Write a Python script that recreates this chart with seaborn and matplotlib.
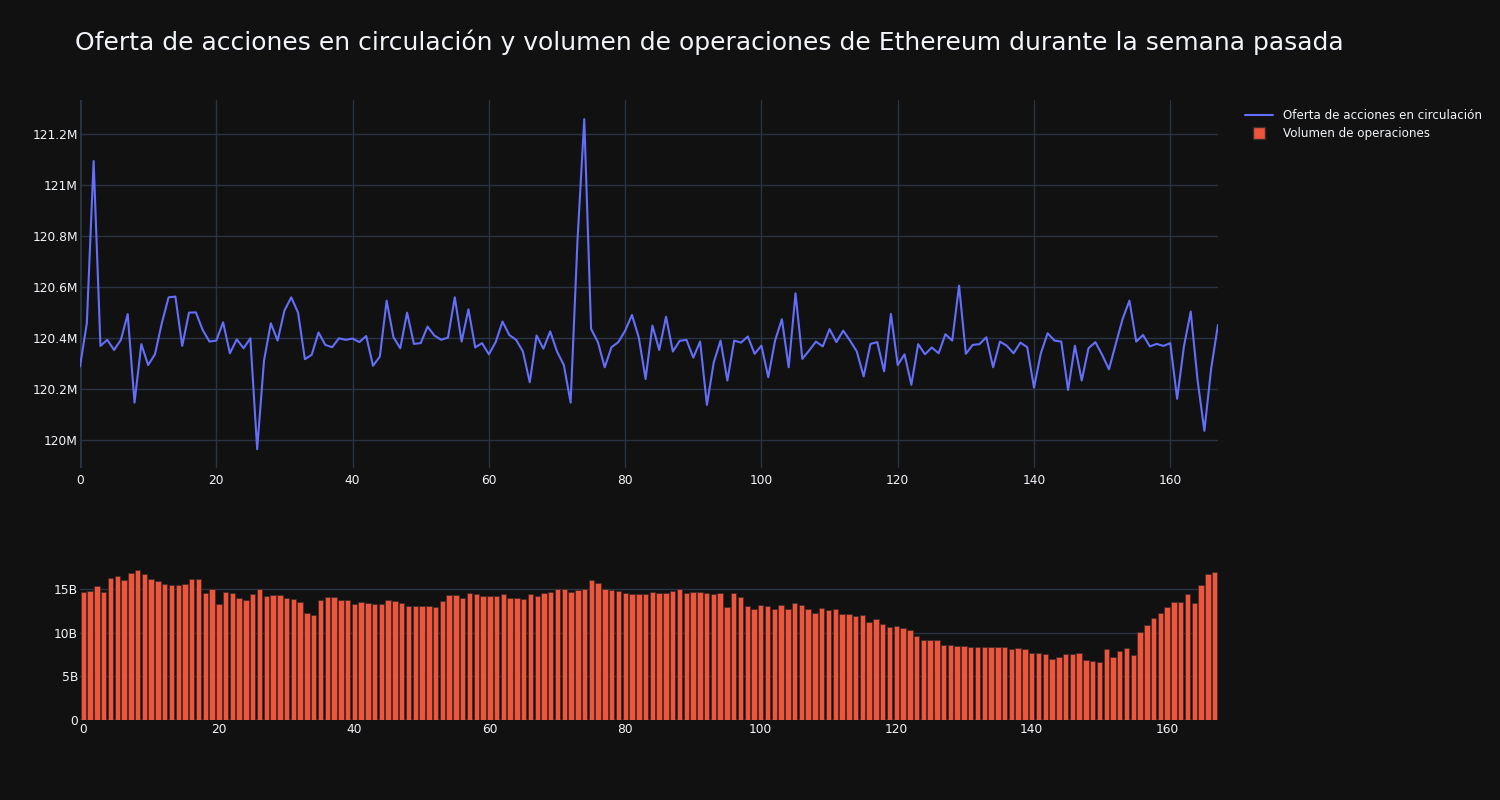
import matplotlib
matplotlib.use("Agg")
import matplotlib.pyplot as plt
import seaborn as sns
from matplotlib.ticker import FuncFormatter, MultipleLocator
from matplotlib.lines import Line2D

# Ethereum - last week, hourly data (index 0..167)
TITLE = "Oferta de acciones en circulación y volumen de operaciones de Ethereum durante la semana pasada"
SUPPLY_LABEL = "Oferta de acciones en circulación"
VOLUME_LABEL = "Volumen de operaciones"

# circulating supply, millions
supply = [
    120.287, 120.457, 121.095, 120.368, 120.392, 120.352, 120.392, 120.493, 120.145, 120.375,
    120.293, 120.335, 120.457, 120.559, 120.562, 120.368, 120.499, 120.500, 120.431, 120.385,
    120.389, 120.461, 120.339, 120.394, 120.359, 120.398, 119.962, 120.310, 120.457, 120.389,
    120.507, 120.559, 120.499, 120.316, 120.333, 120.421, 120.372, 120.363, 120.398, 120.392,
    120.397, 120.383, 120.407, 120.290, 120.326, 120.546, 120.402, 120.359, 120.499, 120.376,
    120.379, 120.444, 120.409, 120.392, 120.401, 120.559, 120.385, 120.512, 120.362, 120.379,
    120.335, 120.383, 120.464, 120.411, 120.392, 120.346, 120.225, 120.409, 120.357, 120.425,
    120.346, 120.293, 120.145, 120.780, 121.260, 120.435, 120.383, 120.284, 120.363, 120.383,
    120.428, 120.490, 120.401, 120.238, 120.448, 120.352, 120.483, 120.346, 120.388, 120.392,
    120.322, 120.385, 120.136, 120.303, 120.389, 120.232, 120.389, 120.381, 120.405, 120.337,
    120.369, 120.245, 120.389, 120.473, 120.284, 120.575, 120.317, 120.350, 120.385, 120.366,
    120.434, 120.383, 120.428, 120.389, 120.346, 120.248, 120.376, 120.383, 120.268, 120.494,
    120.293, 120.335, 120.215, 120.375, 120.335, 120.362, 120.339, 120.414, 120.389, 120.605,
    120.337, 120.372, 120.375, 120.402, 120.284, 120.385, 120.369, 120.339, 120.381, 120.363,
    120.204, 120.339, 120.418, 120.389, 120.385, 120.195, 120.369, 120.232, 120.359, 120.383,
    120.333, 120.276, 120.376, 120.474, 120.546, 120.385, 120.411, 120.366, 120.376, 120.368,
    120.379, 120.160, 120.366, 120.503, 120.234, 120.034, 120.280, 120.451,
]

# trading volume, billions
volume = [
    14.61, 14.81, 15.27, 14.69, 16.19, 16.42, 16.00, 16.80, 17.15, 16.72,
    16.11, 15.92, 15.61, 15.42, 15.42, 15.61, 16.15, 16.15, 14.50, 14.96,
    13.23, 14.65, 14.50, 14.00, 13.69, 14.46, 14.96, 14.15, 14.31, 14.35,
    13.96, 13.85, 13.54, 12.20, 12.04, 13.69, 14.08, 14.12, 13.69, 13.73,
    13.31, 13.46, 13.43, 13.23, 13.23, 13.77, 13.66, 13.35, 13.04, 13.04,
    13.08, 13.08, 12.97, 13.62, 14.27, 14.31, 14.00, 14.58, 14.38, 14.19,
    14.15, 14.15, 14.42, 13.96, 14.00, 13.89, 14.46, 14.19, 14.58, 14.65,
    14.96, 14.96, 14.65, 14.88, 15.00, 15.96, 15.69, 15.00, 14.88, 14.77,
    14.54, 14.42, 14.42, 14.46, 14.69, 14.58, 14.50, 14.81, 14.96, 14.50,
    14.61, 14.65, 14.50, 14.38, 14.54, 12.89, 14.58, 14.12, 13.00, 12.73,
    13.19, 13.08, 12.66, 13.19, 12.70, 13.43, 13.16, 12.70, 12.27, 12.77,
    12.62, 12.70, 12.12, 12.08, 11.85, 11.97, 11.20, 11.58, 10.93, 10.63,
    10.74, 10.47, 10.24, 9.63, 9.17, 9.17, 9.13, 8.63, 8.63, 8.52,
    8.48, 8.32, 8.32, 8.40, 8.40, 8.36, 8.36, 8.09, 8.29, 8.17,
    7.71, 7.71, 7.60, 6.98, 7.17, 7.52, 7.52, 7.71, 6.87, 6.79,
    6.60, 8.13, 7.17, 7.94, 8.25, 7.48, 10.09, 10.89, 11.62, 12.24,
    12.89, 13.50, 13.54, 14.42, 13.35, 15.42, 16.72, 16.88,
]

hours = list(range(len(supply)))

BG = "#111111"
GRID = "#283442"
TXT = "#f2f5fa"
LINE_COLOR = "#636efa"
BAR_COLOR = "#EF553B"
BAR_EDGE = "#3a2a28"

sns.set_theme(style="dark")
plt.rcParams['font.family'] = ['DejaVu Sans']

fig = plt.figure(figsize=(15, 8), dpi=100, facecolor=BG)
W, H = 1500, 800
ax1 = fig.add_axes([80 / W, 1 - 468 / H, 1138 / W, 368 / H])
ax2 = fig.add_axes([80 / W, 1 - 720 / H, 1138 / W, 160 / H])


def style_axis(ax):
    ax.set_facecolor(BG)
    for s in ax.spines.values():
        s.set_visible(False)
    ax.grid(True, color=GRID, linewidth=1)
    ax.set_axisbelow(True)
    ax.tick_params(length=0, labelsize=8.8, colors=TXT)
    ax.tick_params(axis="y", pad=1.5)
    ax.tick_params(axis="x", pad=4)
    ax.set_xlabel("")
    ax.set_ylabel("")


# top: supply line
sns.lineplot(x=hours, y=supply, ax=ax1, color=LINE_COLOR, linewidth=1.5)
style_axis(ax1)
ax1.axvline(0, color=GRID, linewidth=2, zorder=0.5)
ax1.set_xlim(0, 167)
ax1.set_ylim(119.888, 121.335)
ax1.xaxis.set_major_locator(MultipleLocator(20))
ax1.yaxis.set_major_locator(MultipleLocator(0.2))
ax1.yaxis.set_major_formatter(FuncFormatter(lambda v, p: f"{v:.1f}".rstrip("0").rstrip(".") + "M"))

# bottom: volume bars
sns.barplot(x=hours, y=volume, ax=ax2, native_scale=True, color=BAR_COLOR,
            saturation=1, width=0.8, edgecolor=BAR_EDGE, linewidth=0.5)
style_axis(ax2)
ax2.grid(False, axis="x")
ax2.axhline(0, color=GRID, linewidth=2, zorder=0.5)
ax2.set_xlim(-0.5, 167.5)
ax2.set_ylim(0, 18.3)
ax2.xaxis.set_major_locator(MultipleLocator(20))
ax2.yaxis.set_major_locator(MultipleLocator(5))
ax2.yaxis.set_major_formatter(FuncFormatter(lambda v, p: "0" if v == 0 else f"{v:.0f}B"))
ax2.tick_params(axis="x", pad=2)

fig.text(75 / W, 1 - 42 / H, TITLE, color=TXT, fontsize=18, va="center", ha="left")

handles = [
    Line2D([0], [0], color=LINE_COLOR, linewidth=1.5, label=SUPPLY_LABEL),
    Line2D([0], [0], color=BAR_COLOR, marker="s", markersize=8, linestyle="none",
           markeredgecolor=BAR_EDGE, label=VOLUME_LABEL),
]
leg = fig.legend(handles=handles, loc="upper left", bbox_to_anchor=(1240 / W, 1 - 104 / H),
                 frameon=False, fontsize=8.6, labelcolor=TXT, handlelength=2.4,
                 labelspacing=0.45, borderaxespad=0)

fig.savefig("out.png", dpi=100, facecolor=BG)
